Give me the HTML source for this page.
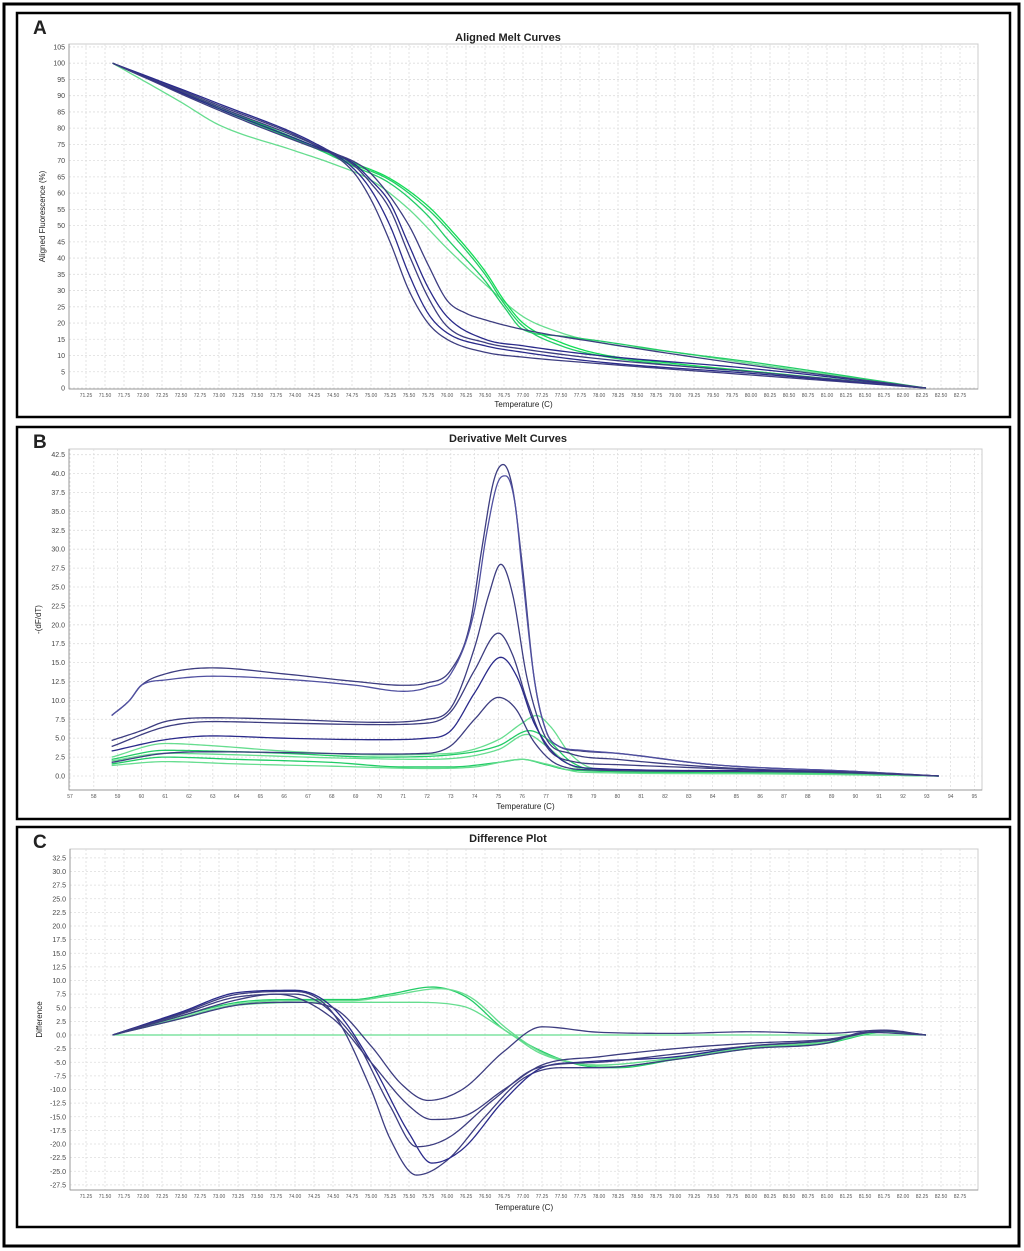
<!DOCTYPE html>
<html><head><meta charset="utf-8"><style>
body{margin:0;background:#fff;}
svg{display:block;font-family:"Liberation Sans",sans-serif;}
</style></head><body>
<svg id="s" width="1024" height="1251"></svg>
<script>
// ===== Panel A data (temperature, aligned fluorescence %) =====
const aTicksX=[71.25,71.5,71.75,72,72.25,72.5,72.75,73,73.25,73.5,73.75,74,74.25,74.5,74.75,75,75.25,75.5,75.75,76,76.25,76.5,76.75,77,77.25,77.5,77.75,78,78.25,78.5,78.75,79,79.25,79.5,79.75,80,80.25,80.5,80.75,81,81.25,81.5,81.75,82,82.25,82.5,82.75];
const aTicksY=[0,5,10,15,20,25,30,35,40,45,50,55,60,65,70,75,80,85,90,95,100,105];
const aDark1=[[71.6,100],[73,87],[74.25,75],[74.75,67],[75,58],[75.25,45],[75.5,30],[75.75,20],[76,15],[76.5,11],[77,9.5],[78,7.5],[80,4],[82.3,0]];
const aDark2=[[71.6,100],[73,87.5],[74.25,75.5],[74.75,68],[75,61],[75.25,50],[75.5,35],[75.75,23],[76,17],[76.5,13],[77,11],[78,8],[80,4.5],[82.3,0]];
const aDark3=[[71.6,100],[73,86.5],[74.25,75],[74.75,69],[75,63],[75.25,55],[75.5,41],[75.75,28],[76,19],[76.5,14],[77,12],[78,9],[80,5],[82.3,0]];
const aDark4=[[71.6,100],[73,86],[74.25,74.5],[74.75,69.5],[75,64],[75.25,57],[75.5,44],[75.75,31],[76,22],[76.5,15],[77,13],[78,10],[80,6],[82.3,0]];
const aDark5=[[71.6,100],[73,85.5],[74.25,74],[74.75,70],[75,66],[75.5,50],[75.75,38],[76,27],[76.25,23],[76.5,21],[77,18],[78,14],[80,7],[82.3,0]];
const aGreen1=[[71.6,100],[72.5,88],[73,81],[74,73],[74.5,69],[75,64],[75.5,55],[76,43],[76.5,32],[77,22],[77.5,17],[78,14],[79,11],[80,7.5],[82.3,0]];
const aGreen2=[[71.6,100],[73,86],[74.25,74],[74.75,69],[75.25,64],[75.75,55],[76,49],[76.5,35],[76.75,26],[77,19],[77.5,13],[78,10],[79,7],[80,5],[82.3,0]];
const aGreen3=[[71.6,100],[73,86.5],[74.25,74.5],[74.75,69.5],[75.25,64.5],[75.75,56],[76,50],[76.5,36],[76.75,27],[77,20],[77.5,14],[78,10.5],[79,7.5],[80,5.2],[82.3,0]];
const aGreen4=[[71.6,100],[73,86],[74.25,74],[74.75,68.5],[75.25,63],[75.75,53],[76,46],[76.5,33],[76.75,25],[77,18],[77.5,16],[78,14.5],[79,11],[80,8],[82.3,0]];
// ===== Panel B data (temperature, -dF/dT) =====
const bTicksX=[57,58,59,60,61,62,63,64,65,66,67,68,69,70,71,72,73,74,75,76,77,78,79,80,81,82,83,84,85,86,87,88,89,90,91,92,93,94,95];
const bTicksY=[0,2.5,5,7.5,10,12.5,15,17.5,20,22.5,25,27.5,30,32.5,35,37.5,40,42.5];
const bDark1=[[58.75,8],[59.5,10],[60,12],[61,13.5],[63,14.3],[66,13.5],[69,12.5],[71,12],[72,12.3],[73,14],[73.8,20],[74.3,30],[74.8,39],[75.2,41.2],[75.6,38],[76,28],[76.5,13],[77,6],[77.5,4],[78.5,3.3],[80,3],[84,1.5],[90,0.6],[93.5,0]];
const bDark2=[[58.75,8],[59.5,10],[60,12],[61,12.7],[63,13.2],[66,12.8],[69,12],[71,11.2],[72,11.7],[73,13.5],[74,22],[74.5,32],[75,39],[75.3,39.7],[75.7,36],[76,27],[76.5,13],[77,6],[77.5,4],[78.5,3.4],[80,3],[84,1.5],[90,0.6],[93.5,0]];
const bDark3=[[58.75,4.7],[60,6],[61,7.2],[63,7.7],[66,7.5],[70,7.1],[72,7.5],[73,9],[74,17],[74.6,24],[75.1,28],[75.6,24],[76.2,13],[77,5],[78,3],[80,2.2],[85,1],[90,0.5],[93.5,0]];
const bDark4=[[58.75,3.9],[61,6.5],[63,7.2],[66,7],[70,6.8],[72,7],[73,8.5],[74,14],[75,18.9],[75.6,16],[76.2,10],[77,4],[78,2],[80,1.5],[85,0.9],[90,0.5],[93.5,0]];
const bDark5=[[58.75,3.3],[61,4.8],[63,5.3],[66,5],[70,4.8],[72,5],[73,6],[74,11],[75.1,15.7],[75.8,13],[76.5,7],[77.5,2.5],[79,1],[85,0.7],[90,0.4],[93.5,0]];
const bDark6=[[58.75,1.8],[61,3],[63,3.2],[66,3.1],[70,2.9],[72,3],[73,4],[74,7.5],[75,10.4],[75.7,9],[76.5,4.5],[77.5,1.5],[79,0.8],[85,0.6],[90,0.4],[93.5,0]];
const bGreen1=[[58.75,2.5],[61,4.3],[63,4],[66,3.3],[70,2.8],[73,3],[75,4.8],[76,7],[76.6,8],[77.2,6.5],[78,3],[79,1],[82,0.5],[88,0.4],[93.5,0]];
const bGreen2=[[58.75,2.2],[61,3.4],[63,3.3],[66,3],[70,2.5],[73,2.8],[75,4],[76.3,6],[77,5],[78,2],[79,0.8],[84,0.5],[90,0.3],[93.5,0]];
const bGreen3=[[58.75,2],[61,3],[64,2.8],[68,2.4],[72,2.2],[75,3.5],[76.2,5.5],[77,4],[78,1.5],[79,0.7],[85,0.4],[93.5,0]];
const bGreen4=[[58.75,1.6],[61,2.5],[64,2.2],[68,1.8],[71,1.2],[73,1.2],[75,1.8],[76,2.2],[77,1.5],[78,0.8],[85,0.4],[93.5,0]];
const bGreen5=[[58.75,1.4],[61,1.9],[64,1.6],[68,1.3],[72,1],[74,1.2],[76,2.2],[77,1.6],[78.5,0.5],[85,0.3],[93.5,0]];
// ===== Panel C data (temperature, difference) =====
const cTicksY=[-27.5,-25,-22.5,-20,-17.5,-15,-12.5,-10,-7.5,-5,-2.5,0,2.5,5,7.5,10,12.5,15,17.5,20,22.5,25,27.5,30,32.5];
const cDark1=[[71.6,0],[72.5,4],[73.25,7.5],[74,8],[74.5,4],[75,-10],[75.25,-19],[75.6,-25.7],[76,-23],[76.5,-15],[77,-8],[77.5,-6],[78,-6],[79,-4.5],[80,-2.5],[81,-1.5],[81.5,0.5],[82.3,0]];
const cDark2=[[71.6,0],[72.5,4.2],[73.25,7.8],[74,8.2],[74.5,5],[75,-5],[75.5,-18],[75.8,-23.5],[76.2,-21],[76.75,-12],[77.25,-6],[77.75,-5],[79,-4],[80,-2],[81,-1],[81.75,0.8],[82.3,0]];
const cDark3=[[71.6,0],[72.5,3.8],[73.25,7],[74,7.5],[74.75,0],[75.25,-13],[75.6,-20.5],[76,-19],[76.6,-12],[77.2,-6],[78,-5],[79,-3.5],[80,-2],[81,-1],[81.75,0.7],[82.3,0]];
const cDark4=[[71.6,0],[72.5,3.5],[73.25,6.5],[73.75,7.5],[74.5,3],[75,-5],[75.5,-13],[75.8,-15.5],[76.2,-15],[76.75,-10],[77.25,-5.5],[78,-4],[79,-2.5],[80,-1.5],[81,-0.8],[81.75,0.8],[82.3,0]];
const cDark5=[[71.6,0],[72.5,3],[73.25,5.5],[74,6],[74.5,5],[75,-2],[75.4,-9],[75.75,-12],[76.2,-10],[76.75,-3],[77.25,1.5],[78,0.5],[79,0.3],[80,0.6],[81,0.3],[81.75,0.9],[82.3,0]];
const cGreen1=[[71.6,0],[72.5,3.5],[73.25,6],[74,6.5],[74.75,6.5],[75.25,7.5],[75.8,8.8],[76.25,7],[76.75,1],[77.25,-3],[77.75,-5.5],[78.25,-6],[79,-4.5],[80,-2.5],[81,-1.5],[81.75,0.5],[82.3,0]];
const cGreen2=[[71.6,0],[72.5,3.2],[73.25,5.7],[74,6.3],[74.75,6.3],[75.25,7.2],[75.9,8.5],[76.3,7],[76.8,1],[77.25,-3.2],[77.75,-5.3],[78.25,-5.8],[79,-4.3],[80,-2.3],[81,-1.3],[81.75,0.6],[82.3,0]];
const cGreen3=[[71.6,0],[72.5,3],[73.25,5.5],[74.5,6],[75.5,6],[76.2,5.3],[76.75,1],[77.25,-3.5],[78,-5.5],[79,-4.2],[80,-2.2],[81,-1.2],[81.75,0.6],[82.3,0]];
const cGreen4=[[71.6,0],[74,0],[77,0],[80,0],[82.3,0]];

const NS="http://www.w3.org/2000/svg";
const svg=document.getElementById('s');
function el(t,a,p){const e=document.createElementNS(NS,t);for(const k in a)e.setAttribute(k,a[k]);(p||svg).appendChild(e);return e;}
function txt(x,y,s,size,anchor,weight,p){const e=el('text',{x:x,y:y,'font-size':size,'text-anchor':anchor||'middle','font-weight':weight||'normal',fill:'#222'},p);e.textContent=s;return e;}

const ob=el('rect',{x:4,y:4,width:1015,height:1242,fill:'none',stroke:'#000','stroke-width':3});



// monotone cubic (Fritsch-Carlson) sampled polyline
function mono(pts){
  const n=pts.length,xs=pts.map(p=>p[0]),ys=pts.map(p=>p[1]);
  const dl=[],m=new Array(n);
  for(let i=0;i<n-1;i++)dl.push((ys[i+1]-ys[i])/(xs[i+1]-xs[i]));
  m[0]=dl[0];m[n-1]=dl[n-2];
  for(let i=1;i<n-1;i++){m[i]=(dl[i-1]*dl[i]<=0)?0:(dl[i-1]+dl[i])/2;}
  for(let i=0;i<n-1;i++){
    if(dl[i]===0){m[i]=0;m[i+1]=0;continue;}
    const a=m[i]/dl[i],b=m[i+1]/dl[i],s=a*a+b*b;
    if(s>9){const t=3/Math.sqrt(s);m[i]=t*a*dl[i];m[i+1]=t*b*dl[i];}
  }
  let d='';
  for(let i=0;i<n-1;i++){
    const h=xs[i+1]-xs[i],N=16;
    for(let k=(i===0?0:1);k<=N;k++){
      const t=k/N,t2=t*t,t3=t2*t;
      const y=(2*t3-3*t2+1)*ys[i]+(t3-2*t2+t)*h*m[i]+(-2*t3+3*t2)*ys[i+1]+(t3-t2)*h*m[i+1];
      const x=xs[i]+t*h;
      d+=(d?'L':'M')+x.toFixed(2)+','+y.toFixed(2);
    }
  }
  return d;
}

function panel(cfg){
  const g=el('g',{});
  
  
  el('rect',{x:cfg.fx,y:cfg.fy,width:cfg.fw,height:cfg.fh,fill:'#fff',stroke:'#000','stroke-width':2.5},g);
  const L=txt(cfg.fx+16,cfg.fy+21,cfg.letter,19,'start','bold',g);
  
  
  const T=txt(508,cfg.titleY,cfg.title,11,'middle','bold',g);
  
  
  const X=v=>cfg.x0+(v-cfg.xv0)*cfg.xs;
  const Y=v=>cfg.y0-(v-cfg.yv0)*cfg.ys;
  el('rect',{x:cfg.pl,y:cfg.pt,width:cfg.pr-cfg.pl,height:cfg.pb-cfg.pt,fill:'#fff',stroke:'#ccc','stroke-width':1},g);
  const grid=el('g',{},g);
  
  
  cfg.tx.forEach(v=>{const x=X(v);el('line',{x1:x,x2:x,y1:cfg.pt,y2:cfg.pb,stroke:'#ddd','stroke-dasharray':'2,2','stroke-width':0.8},grid);
    const t=txt(x,cfg.pb+cfg.xlabOff,cfg.xfmt(v),cfg.xfs,'middle','normal',g);t.setAttribute('fill','#555');
    
    });
  cfg.ty.forEach(v=>{const y=Y(v);el('line',{x1:cfg.pl,x2:cfg.pr,y1:y,y2:y,stroke:'#ddd','stroke-dasharray':'2,2','stroke-width':0.8},grid);
    const t=txt(cfg.pl-4,y+2.5,cfg.yfmt(v),7,'end','normal',g);t.setAttribute('fill','#444');
    
    });
  el('line',{x1:cfg.pl,x2:cfg.pl,y1:cfg.pt,y2:cfg.pb,stroke:'#999','stroke-width':1},g);
  el('line',{x1:cfg.pl,x2:cfg.pr,y1:cfg.pb,y2:cfg.pb,stroke:'#999','stroke-width':1},g);
  const xt=txt((cfg.pl+cfg.pr)/2,cfg.pb+cfg.xtitleOff,'Temperature (C)',8,'middle','normal',g);
  
  
  const yt=txt(0,0,cfg.ytitle,8,'middle','normal',g);
  yt.setAttribute('transform','translate('+cfg.ytx+','+((cfg.pt+cfg.pb)/2)+') rotate(-90)');
  
  
  cfg.series.forEach((s,i)=>{
    const p=el('path',{d:mono(s.d.map(q=>[X(q[0]),Y(q[1])])),fill:'none',stroke:s.c,'stroke-width':1.3,'stroke-linejoin':'round'},g);
    
    
  });
}
const DK='#3d3d80',DK2='#2a2a8a',GR='#22cc66',GR2='#66dd8f';
const f2=v=>v.toFixed(2), f1=v=>v.toFixed(1);
panel({name:'panel-a-aligned-melt',letter:'A',title:'Aligned Melt Curves',fx:17,fy:13,fw:993,fh:404,titleY:41,
  pl:69,pr:978,pt:44,pb:389,x0:86,xv0:71.25,xs:76,y0:388,yv0:0,ys:3.248,
  tx:aTicksX,ty:aTicksY,xfmt:f2,yfmt:v=>String(v),xfs:5,xlabOff:8,xtitleOff:18,ytitle:'Aligned Fluorescence (%)',ytx:45,
  series:[{d:aGreen1,c:GR2},{d:aGreen4,c:GR},{d:aGreen2,c:GR},{d:aGreen3,c:'#11dd55'},
          {d:aDark1,c:DK},{d:aDark2,c:DK2},{d:aDark3,c:DK},{d:aDark4,c:DK2},{d:aDark5,c:DK}]});
panel({name:'panel-b-derivative-melt',letter:'B',title:'Derivative Melt Curves',fx:17,fy:427,fw:993,fh:392,titleY:442,
  pl:69,pr:982,pt:449,pb:790,x0:70,xv0:57,xs:23.8,y0:776,yv0:0,ys:7.56,
  tx:bTicksX,ty:bTicksY,xfmt:v=>String(v),yfmt:f1,xfs:5,xlabOff:8,xtitleOff:19,ytitle:'-(dF/dT)',ytx:41,
  series:[{d:bGreen1,c:GR2},{d:bGreen2,c:GR},{d:bGreen3,c:GR2},{d:bGreen4,c:GR},{d:bGreen5,c:GR2},
          {d:bDark1,c:DK},{d:bDark2,c:'#5050a0'},{d:bDark3,c:DK},{d:bDark4,c:DK},{d:bDark5,c:DK2},{d:bDark6,c:DK}]});
panel({name:'panel-c-difference',letter:'C',title:'Difference Plot',fx:17,fy:827,fw:993,fh:400,titleY:842,
  pl:70,pr:978,pt:849,pb:1190,x0:86,xv0:71.25,xs:76,y0:1035,yv0:0,ys:5.45,
  tx:aTicksX,ty:cTicksY,xfmt:f2,yfmt:f1,xfs:5,xlabOff:8,xtitleOff:20,ytitle:'Difference',ytx:42,
  series:[{d:cGreen4,c:GR2},{d:cGreen1,c:GR},{d:cGreen2,c:GR2},{d:cGreen3,c:GR2},
          {d:cDark1,c:DK},{d:cDark2,c:DK2},{d:cDark3,c:DK},{d:cDark4,c:DK},{d:cDark5,c:DK}]});
</script>
</body></html>
